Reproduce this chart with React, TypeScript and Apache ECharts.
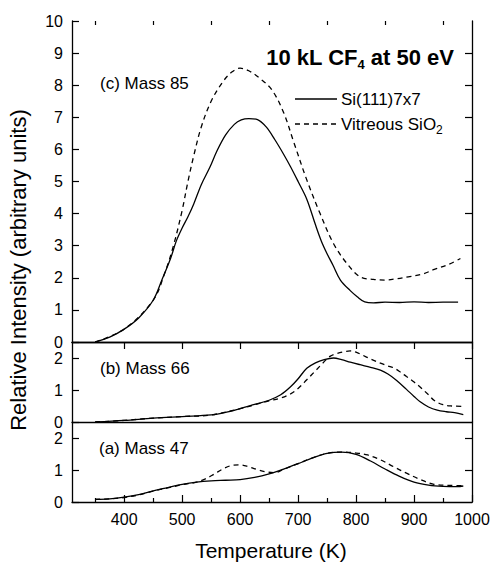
import React, { useEffect, useRef } from 'react';
import * as echarts from 'echarts';

const FONT = '"Liberation Sans", Arial, Helvetica, sans-serif';

const xMin = 310;
const xMax = 1000;
const xMajorTicks = [400, 500, 600, 700, 800, 900, 1000];
const xMinorTicks = [350, 450, 550, 650, 750, 850, 950];
const yTicksTop = [0, 1, 2, 3, 4, 5, 6, 7, 8, 9, 10];
const yTicksSmall = [0, 1, 2];
const yTicksSmallRight = [1, 2];

const seriesNames = ['Si(111)7x7', 'Vitreous SiO2'];
const panelLabels = ['(c) Mass 85', '(b) Mass 66', '(a) Mass 47'];

// (c) Mass 85
const m85SiT = [350, 375, 400, 425, 450, 465, 480, 490, 500, 510, 520, 533, 548, 560, 575, 590, 602, 615, 630, 645, 660, 675, 687, 700, 715, 730, 740, 750, 760, 773, 790, 802, 815, 830, 850, 875, 900, 925, 950, 976];
const m85SiV = [0.0, 0.15, 0.4, 0.75, 1.3, 1.93, 2.6, 3.15, 3.55, 3.9, 4.3, 4.9, 5.45, 5.95, 6.45, 6.78, 6.92, 6.96, 6.93, 6.7, 6.3, 5.85, 5.46, 5.0, 4.45, 3.65, 3.15, 2.75, 2.4, 1.93, 1.6, 1.41, 1.25, 1.22, 1.24, 1.23, 1.25, 1.23, 1.24, 1.24];
const m85OxT = [350, 400, 450, 470, 485, 500, 510, 520, 533, 550, 570, 585, 600, 615, 635, 655, 675, 693, 715, 738, 761, 784, 807, 830, 850, 870, 890, 915, 935, 960, 980];
const m85OxV = [0.0, 0.4, 1.3, 2.15, 3.0, 4.1, 5.0, 5.8, 6.7, 7.5, 8.1, 8.4, 8.53, 8.45, 8.2, 7.85, 7.15, 6.2, 5.05, 4.0, 3.07, 2.45, 2.03, 1.95, 1.93, 1.97, 2.03, 2.12, 2.26, 2.42, 2.6];

// (b) Mass 66
const m66SiT = [350, 400, 450, 500, 550, 575, 600, 625, 650, 670, 687, 700, 715, 730, 745, 761, 775, 790, 807, 825, 842, 855, 870, 887, 900, 910, 925, 940, 956, 970, 985];
const m66SiV = [0.0, 0.05, 0.12, 0.17, 0.22, 0.3, 0.42, 0.55, 0.68, 0.85, 1.1, 1.35, 1.68, 1.85, 1.95, 2.0, 1.95, 1.87, 1.79, 1.71, 1.62, 1.5, 1.3, 1.02, 0.8, 0.64, 0.47, 0.37, 0.32, 0.29, 0.23];
const m66OxT = [350, 400, 450, 500, 550, 600, 650, 670, 687, 700, 715, 730, 742, 755, 765, 780, 790, 800, 811, 825, 842, 855, 864, 875, 887, 900, 910, 925, 935, 950, 965, 985];
const m66OxV = [0.0, 0.05, 0.12, 0.17, 0.22, 0.42, 0.66, 0.75, 0.88, 1.05, 1.32, 1.6, 1.83, 2.05, 2.13, 2.2, 2.22, 2.18, 2.09, 1.97, 1.84, 1.75, 1.7, 1.58, 1.42, 1.25, 1.1, 0.85, 0.67, 0.54, 0.5, 0.49];

// (a) Mass 47
const m47SiT = [350, 375, 400, 425, 450, 475, 500, 525, 550, 575, 600, 625, 650, 675, 700, 725, 750, 775, 800, 825, 850, 875, 900, 925, 950, 975, 985];
const m47SiV = [0.08, 0.1, 0.15, 0.23, 0.35, 0.45, 0.55, 0.62, 0.66, 0.68, 0.7, 0.77, 0.88, 1.03, 1.2, 1.38, 1.52, 1.56, 1.49, 1.28, 1.03, 0.8, 0.62, 0.53, 0.49, 0.48, 0.5];
const m47OxT = [350, 375, 400, 425, 450, 475, 500, 525, 540, 555, 570, 585, 600, 615, 630, 645, 660, 675, 700, 725, 750, 775, 800, 820, 842, 865, 887, 910, 933, 960, 985];
const m47OxV = [0.08, 0.1, 0.14, 0.22, 0.34, 0.44, 0.54, 0.62, 0.72, 0.87, 1.03, 1.14, 1.16, 1.1, 1.01, 0.94, 0.92, 1.02, 1.2, 1.38, 1.52, 1.56, 1.53, 1.47, 1.32, 1.1, 0.9, 0.71, 0.56, 0.52, 0.51];

const zip = (t: number[], v: number[]) => t.map((x, i) => [x, v[i]]);

const INK = '#000';
const DASH = [5, 4];

export default function App() {
  const ref = useRef<HTMLDivElement>(null);

  useEffect(() => {
    if (!ref.current) return;
    const chart = echarts.init(ref.current, undefined, { renderer: 'svg' });

    const grids = [
      { left: 72, right: 21, top: 21, height: 321 },
      { left: 72, right: 21, top: 342, height: 80 },
      { left: 72, right: 21, top: 422, height: 80 },
    ];

    const axisLine = { show: true, lineStyle: { color: INK, width: 1.3 } };
    const labelStyle = { color: INK, fontSize: 16, fontFamily: FONT };

    const xAxis: any[] = [
      { type: 'value', gridIndex: 0, min: xMin, max: xMax, position: 'bottom', axisLine, axisTick: { show: false }, axisLabel: { show: false }, splitLine: { show: false } },
      { type: 'value', gridIndex: 1, min: xMin, max: xMax, position: 'bottom', axisLine, axisTick: { show: false }, axisLabel: { show: false }, splitLine: { show: false } },
      {
        type: 'value', gridIndex: 2, min: xMin, max: xMax, position: 'bottom', axisLine,
        axisTick: { show: true, inside: true, length: 7, customValues: xMajorTicks, lineStyle: { color: INK, width: 1.2 } },
        axisLabel: { show: true, customValues: xMajorTicks, margin: 9, formatter: (v: number) => String(v), ...labelStyle },
        splitLine: { show: false },
      },
      {
        type: 'value', gridIndex: 2, min: xMin, max: xMax, position: 'bottom', axisLine: { show: false },
        axisTick: { show: true, inside: true, length: 4, customValues: xMinorTicks, lineStyle: { color: INK, width: 1.2 } },
        axisLabel: { show: false }, splitLine: { show: false },
      },
      {
        type: 'value', gridIndex: 0, min: xMin, max: xMax, position: 'top', axisLine,
        axisTick: { show: true, inside: true, length: 7, customValues: xMajorTicks, lineStyle: { color: INK, width: 1.2 } },
        axisLabel: { show: false }, splitLine: { show: false },
      },
      {
        type: 'value', gridIndex: 0, min: xMin, max: xMax, position: 'top', axisLine: { show: false },
        axisTick: { show: true, inside: true, length: 4, customValues: xMinorTicks, lineStyle: { color: INK, width: 1.2 } },
        axisLabel: { show: false }, splitLine: { show: false },
      },
    ];

    const leftY = (gi: number, max: number, ticks: number[]) => ({
      type: 'value', gridIndex: gi, min: 0, max, position: 'left', axisLine,
      axisTick: { show: true, inside: true, length: 7, customValues: ticks, lineStyle: { color: INK, width: 1.2 } },
      axisLabel: { show: true, customValues: ticks, margin: 9, ...labelStyle },
      splitLine: { show: false },
    });
    const rightY = (gi: number, max: number, ticks: number[]) => ({
      type: 'value', gridIndex: gi, min: 0, max, position: 'right', axisLine,
      axisTick: { show: true, inside: true, length: 7, customValues: ticks, lineStyle: { color: INK, width: 1.2 } },
      axisLabel: { show: false },
      splitLine: { show: false },
    });

    const yAxis: any[] = [
      leftY(0, 10, yTicksTop),
      leftY(1, 2.5, yTicksSmall),
      leftY(2, 2.5, yTicksSmall),
      rightY(0, 10, yTicksTop.slice(1, 10)),
      rightY(1, 2.5, yTicksSmallRight),
      rightY(2, 2.5, yTicksSmallRight),
    ];

    const mk = (name: string, gi: number, data: number[][], dashed: boolean) => ({
      type: 'line',
      name,
      xAxisIndex: gi,
      yAxisIndex: gi,
      data,
      symbol: 'none',
      smooth: 0.35,
      lineStyle: { color: INK, width: 1.3, type: dashed ? DASH : 'solid' },
      itemStyle: { color: INK },
      z: 3,
    });

    const series = [
      mk(seriesNames[0], 0, zip(m85SiT, m85SiV), false),
      mk(seriesNames[1], 0, zip(m85OxT, m85OxV), true),
      mk(seriesNames[0], 1, zip(m66SiT, m66SiV), false),
      mk(seriesNames[1], 1, zip(m66OxT, m66OxV), true),
      mk(seriesNames[0], 2, zip(m47SiT, m47SiV), false),
      mk(seriesNames[1], 2, zip(m47OxT, m47OxV), true),
    ];

    const panelText = (text: string, x: number, y: number) => ({
      type: 'text', x, y, z: 10,
      style: { text, fill: INK, font: `17px ${FONT}`, textAlign: 'left', textVerticalAlign: 'middle' },
    });

    const legendRich = {
      n: { fontSize: 17, fontFamily: FONT, fill: INK, lineHeight: 24 },
      s: { fontSize: 12, fontFamily: FONT, fill: INK, lineHeight: 8, verticalAlign: 'bottom' },
    };

    chart.setOption({
      animation: false,
      backgroundColor: '#fff',
      grid: grids,
      xAxis,
      yAxis,
      series,
      graphic: [
        {
          type: 'text', x: 454, y: 57, z: 10,
          style: {
            text: '{a|10 kL CF}{s|4}{a| at 50 eV}',
            fill: INK,
            textAlign: 'right',
            textVerticalAlign: 'middle',
            rich: {
              a: { fontSize: 22, fontWeight: 'bold', fontFamily: FONT, fill: INK, lineHeight: 27 },
              s: { fontSize: 13, fontWeight: 'bold', fontFamily: FONT, fill: INK, lineHeight: 10, verticalAlign: 'bottom' },
            },
          },
        },
        // legend
        { type: 'line', z: 10, shape: { x1: 295, y1: 99, x2: 337, y2: 99 }, style: { stroke: INK, lineWidth: 1.3 } },
        {
          type: 'text', x: 341, y: 99, z: 10,
          style: { text: '{n|' + seriesNames[0] + '}', rich: legendRich, fill: INK, textAlign: 'left', textVerticalAlign: 'middle' },
        },
        { type: 'line', z: 10, shape: { x1: 295, y1: 124, x2: 337, y2: 124 }, style: { stroke: INK, lineWidth: 1.3, lineDash: DASH } },
        {
          type: 'text', x: 341, y: 124, z: 10,
          style: { text: '{n|Vitreous SiO}{s|2}', rich: legendRich, fill: INK, textAlign: 'left', textVerticalAlign: 'middle' },
        },
        panelText(panelLabels[0], 100, 83),
        panelText(panelLabels[1], 100, 368),
        panelText(panelLabels[2], 99, 448),
        {
          type: 'text', x: 18, y: 270, rotation: Math.PI / 2, z: 10,
          style: { text: 'Relative Intensity (arbitrary units)', fill: INK, font: `22px ${FONT}`, textAlign: 'center', textVerticalAlign: 'middle' },
        },
        {
          type: 'text', x: 271, y: 550, z: 10,
          style: { text: 'Temperature (K)', fill: INK, font: `21px ${FONT}`, textAlign: 'center', textVerticalAlign: 'middle' },
        },
      ],
    });

    return () => chart.dispose();
  }, []);

  return (
    <div
      ref={ref}
      style={{ position: 'fixed', left: 0, top: 0, width: 493, height: 566, background: '#fff' }}
    />
  );
}
